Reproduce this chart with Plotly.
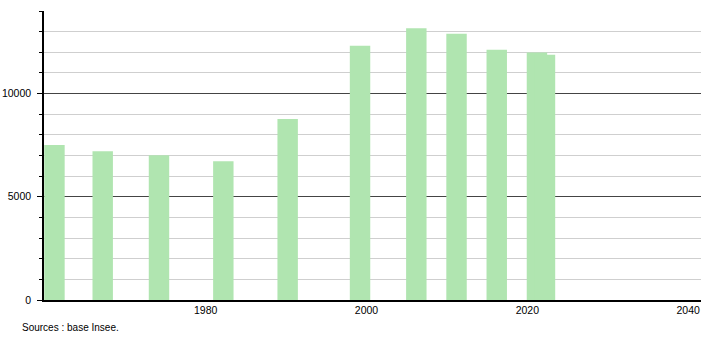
import plotly.graph_objects as go

years = [1961, 1967, 1974, 1982, 1990, 1999, 2006, 2011, 2016, 2021, 2022]
population = [7513, 7208, 7014, 6723, 8774, 12312, 13170, 12894, 12118, 11990, 11880]
x_tickvals = [1980, 2000, 2020, 2040]
y_tickvals = [0, 5000, 10000]
source_text = "Sources : base Insee."

FONT = "Liberation Sans, Arial, sans-serif"

fig = go.Figure()
fig.add_trace(go.Bar(
    x=years, y=population,
    width=2.54, offset=-1.07,
    marker=dict(color="#b0e5b0", line=dict(width=0)),
    hoverinfo="x+y",
))

fig.update_layout(
    width=710, height=340,
    margin=dict(l=44, r=9, t=11, b=40),
    paper_bgcolor="white", plot_bgcolor="white",
    showlegend=False,
    font=dict(family=FONT, size=10.5, color="#000"),
    xaxis=dict(
        range=[1959.9, 2041.6],
        tickvals=x_tickvals,
        ticktext=[str(v) for v in x_tickvals],
        showgrid=False, zeroline=False,
        showline=True, linecolor="#000", linewidth=1.5,
        ticks="", tickfont=dict(size=10.5),
        automargin=False,
    ),
    yaxis=dict(
        range=[0, 14000],
        tickvals=y_tickvals,
        ticktext=[str(v) for v in y_tickvals],
        showgrid=True, gridcolor="#444", gridwidth=1,
        zeroline=False,
        showline=True, linecolor="#000", linewidth=1.5,
        ticks="outside", ticklen=5, tickcolor="#000",
        ticklabelstandoff=4,
        automargin=False,
        minor=dict(dtick=1000, showgrid=True, gridcolor="#cfcfcf", gridwidth=1,
                   ticks="outside", ticklen=3, tickcolor="#000"),
        tickfont=dict(size=10.5),
    ),
    annotations=[dict(
        text=source_text, xref="paper", yref="paper",
        x=-0.0365, y=-0.095, xanchor="left", yanchor="middle",
        showarrow=False, font=dict(size=10, color="#000"),
    )],
)

fig.write_html("out.html")
